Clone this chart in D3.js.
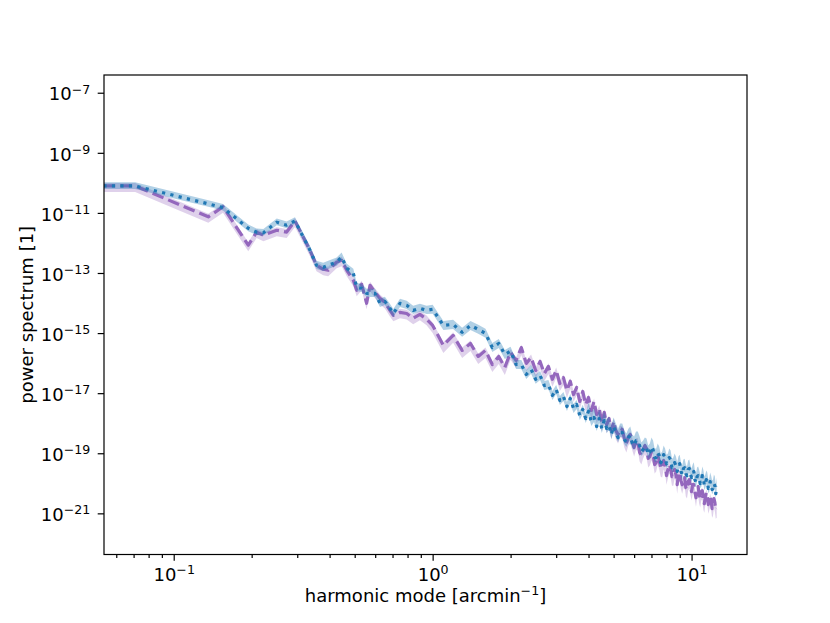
<!DOCTYPE html>
<html>
<head>
<meta charset="utf-8">
<script src="https://cdn.jsdelivr.net/npm/d3@7"></script>
<style>
body{margin:0;background:#fff;}
text{font-family:"DejaVu Sans",sans-serif;fill:#000;}
</style>
</head>
<body>
<svg id="chart" width="830" height="623"></svg>
<script>
// harmonic modes [arcmin^-1], shared by both spectra
const modes = [0.0535, 0.071, 0.136, 0.155, 0.194, 0.209, 0.222, 0.25, 0.273, 0.294,
    0.336, 0.356, 0.378, 0.395, 0.426, 0.445, 0.466, 0.494, 0.509, 0.532,
    0.556, 0.573, 0.599, 0.626, 0.654, 0.684, 0.705, 0.748, 0.794, 0.841, 0.893, 0.948,
    1.0, 1.1, 1.2, 1.3, 1.4, 1.5, 1.6, 1.7, 1.8, 1.9,
    2.0, 2.1, 2.2, 2.3, 2.4, 2.5, 2.6, 2.7, 2.8, 2.9,
    3.0, 3.1, 3.2, 3.3, 3.4, 3.5, 3.6, 3.7, 3.8, 3.9,
    4.0, 4.1, 4.2, 4.3, 4.4, 4.5, 4.6, 4.7, 4.8, 4.9,
    5.0, 5.1, 5.2, 5.3, 5.4, 5.5, 5.6, 5.7, 5.8, 5.9,
    6.0, 6.1, 6.2, 6.3, 6.4, 6.5, 6.6, 6.7, 6.8, 6.9,
    7.0, 7.1, 7.2, 7.3, 7.4, 7.5, 7.6, 7.7, 7.8, 7.9,
    8.0, 8.1, 8.2, 8.3, 8.4, 8.5, 8.6, 8.7, 8.8, 8.9,
    9.0, 9.1, 9.2, 9.3, 9.4, 9.5, 9.6, 9.7, 9.8, 9.9,
    10.0, 10.1, 10.2, 10.3, 10.4, 10.5, 10.6, 10.7, 10.8, 10.9,
    11.0, 11.1, 11.2, 11.3, 11.4, 11.5, 11.6, 11.7, 11.8, 11.9,
    12.0, 12.1, 12.2, 12.3, 12.4, 12.5];

// dotted blue spectrum
const bluePower = [7.9e-11, 7.9e-11, 2.0e-11, 1.5e-11, 3.1e-12, 2.3e-12, 2.2e-12, 4.9e-12, 3.9e-12, 5.4e-12,
    5.7e-13, 1.8e-13, 1.55e-13, 1.8e-13, 2.3e-13, 3.4e-13, 1.45e-13, 9.8e-14, 3.3e-14, 3.1e-14,
    2.1e-14, 2.1e-14, 2.1e-14, 9.8e-15, 1.14e-14, 6.7e-15, 4.5e-15, 9.8e-15, 8.4e-15, 5.7e-15, 6.7e-15, 5.7e-15,
    6.2e-15, 1.8e-15, 1.95e-15, 1.06e-15, 1.8e-15, 1.33e-15, 9.8e-16, 3.3e-16, 4.5e-16, 1.95e-16,
    2.5e-16, 9.0e-17, 9.0e-17, 4.2e-17, 6.2e-17, 2.9e-17, 3.9e-17, 1.8e-17, 1.95e-17, 8.4e-18,
    1.33e-17, 5.7e-18, 7.8e-18, 3.6e-18, 6.7e-18, 3.1e-18, 4.2e-18, 1.8e-18, 2.9e-18, 1.43e-18,
    2.5e-18, 1.14e-18, 1.55e-18, 7.8e-19, 1.43e-18, 6.7e-19, 1.23e-18, 6.7e-19, 8.4e-19, 4.2e-19,
    7.8e-19, 4.9e-19, 3.3e-19, 4.9e-19, 4.9e-19, 2.9e-19, 2.3e-19, 3.3e-19, 3.9e-19, 2.1e-19,
    1.8e-19, 2.65e-19, 2.65e-19, 1.8e-19, 1.14e-19, 1.33e-19, 1.67e-19, 1.55e-19, 9.0e-20, 1.06e-19,
    1.67e-19, 1.33e-19, 7.2e-20, 7.2e-20, 1.06e-19, 8.4e-20, 4.9e-20, 5.7e-20, 9.0e-20, 7.2e-20,
    4.5e-20, 4.9e-20, 7.2e-20, 6.2e-20, 3.3e-20, 3.6e-20, 4.9e-20, 3.9e-20, 2.5e-20, 3.9e-20,
    4.5e-20, 2.5e-20, 1.95e-20, 3.1e-20, 3.3e-20, 2.1e-20, 1.8e-20, 2.9e-20, 3.1e-20, 1.95e-20,
    1.55e-20, 2.1e-20, 2.5e-20, 1.33e-20, 1.06e-20, 1.67e-20, 1.8e-20, 1.43e-20, 9.8e-21, 1.06e-20,
    1.8e-20, 1.43e-20, 8.4e-21, 9.8e-21, 1.33e-20, 1.14e-20, 6.7e-21, 7.2e-21, 1.14e-20, 9.0e-21,
    6.2e-21, 6.7e-21, 9.8e-21, 8.4e-21, 4.5e-21, 7.8e-21];

// dashed purple spectrum
const purplePower = [7.9e-11, 7.9e-11, 7.4e-12, 1.6e-11, 8.4e-13, 2.3e-12, 1.8e-12, 2.65e-12, 2.3e-12, 5.4e-12,
    5.7e-13, 1.8e-13, 1.33e-13, 1.23e-13, 2.3e-13, 2.65e-13, 1.23e-13, 5.7e-14, 2.65e-14, 4.2e-14,
    9.8e-15, 3.9e-14, 2.3e-14, 1.45e-14, 1.05e-14, 5.7e-15, 3.9e-15, 4.9e-15, 4.5e-15, 3.1e-15, 4.2e-15, 2.9e-15,
    1.8e-15, 3.9e-16, 8.4e-16, 2.65e-16, 4.5e-16, 1.67e-16, 2.65e-16, 9.0e-17, 1.67e-16, 7.2e-17,
    2.3e-16, 1.23e-16, 3.3e-16, 9.8e-17, 1.55e-16, 5.7e-17, 1.14e-16, 4.5e-17, 7.8e-17, 2.9e-17,
    5.7e-17, 2.1e-17, 3.3e-17, 1.23e-17, 2.5e-17, 9.0e-18, 1.55e-17, 5.3e-18, 1.14e-17, 4.2e-18,
    7.2e-18, 2.65e-18, 5.3e-18, 1.95e-18, 3.1e-18, 1.06e-18, 2.3e-18, 9.0e-19, 1.43e-18, 5.7e-19,
    1.14e-18, 5.7e-19, 4.2e-19, 6.7e-19, 6.2e-19, 3.1e-19, 2.1e-19, 3.6e-19, 4.2e-19, 2.5e-19,
    1.55e-19, 2.5e-19, 2.5e-19, 1.06e-19, 8.4e-20, 1.33e-19, 1.8e-19, 1.43e-19, 6.7e-20, 7.8e-20,
    1.14e-19, 9.0e-20, 4.2e-20, 4.9e-20, 8.4e-20, 5.7e-20, 3.3e-20, 3.1e-20, 5.7e-20, 4.5e-20,
    1.8e-20, 2.9e-20, 4.2e-20, 3.1e-20, 1.67e-20, 1.67e-20, 2.9e-20, 1.95e-20, 9.0e-21, 2.1e-20,
    2.3e-20, 1.23e-20, 9.0e-21, 1.33e-20, 1.55e-20, 7.2e-21, 6.2e-21, 1.14e-20, 1.33e-20, 8.4e-21,
    5.3e-21, 9.0e-21, 9.0e-21, 5.3e-21, 3.3e-21, 6.2e-21, 7.8e-21, 4.2e-21, 3.1e-21, 5.3e-21,
    5.7e-21, 2.65e-21, 2.1e-21, 3.6e-21, 4.9e-21, 3.9e-21, 1.95e-21, 2.5e-21, 3.6e-21, 2.65e-21,
    1.43e-21, 1.67e-21, 3.1e-21, 2.3e-21, 1.33e-21, 1.43e-21];

// scatter band half-widths (dex) per range of modes
const bandEdges = [0.3, 1.0, 4.0, 20];
const blueUp = [0.12, 0.15, 0.15, 0.3];
const blueDn = [0.1, 0.12, 0.15, 0.15];
const purpleUp = [0.1, 0.12, 0.1, 0.1];
const purpleDn = [0.2, 0.2, 0.25, 0.3];

const xMajor = [0.1, 1, 10];
const xMinor = [0.06, 0.07, 0.08, 0.09, 0.2, 0.3, 0.4, 0.5, 0.6, 0.7, 0.8, 0.9,
    2, 3, 4, 5, 6, 7, 8, 9];
const yMajor = [1e-7, 1e-9, 1e-11, 1e-13, 1e-15, 1e-17, 1e-19, 1e-21];

const margin = {top: 75, left: 104};
const width = 643, height = 479.5;
const blue = "#1f77b4", purple = "#9467bd";

const svg = d3.select("#chart");

const x = d3.scaleLog().domain([0.0538, 16.37]).range([margin.left, margin.left + width]);
const y = d3.scaleLog().domain([4.27e-23, 3.89e-7]).range([margin.top + height, margin.top]);

svg.append("defs").append("clipPath").attr("id", "clip")
    .append("rect")
    .attr("x", margin.left).attr("y", margin.top)
    .attr("width", width).attr("height", height);

function bandIndex(k) {
    var i = 0;
    while (i < bandEdges.length - 1 && k >= bandEdges[i]) i++;
    return i;
}

function drawSeries(power, up, dn, color, dash, bandOpacity) {
    var pts = modes.map((k, i) => ({k: k, p: power[i], b: bandIndex(k)}));
    var area = d3.area()
        .x(d => x(d.k))
        .y0(d => y(d.p / Math.pow(10, dn[d.b])))
        .y1(d => y(d.p * Math.pow(10, up[d.b])));
    var line = d3.line()
        .x(d => x(d.k))
        .y(d => y(d.p));
    var g = svg.append("g").attr("clip-path", "url(#clip)");
    g.append("path")
        .datum(pts)
        .attr("d", area)
        .attr("fill", color)
        .attr("fill-opacity", bandOpacity)
        .attr("stroke", "none");
    g.append("path")
        .datum(pts)
        .attr("d", line)
        .attr("fill", "none")
        .attr("stroke", color)
        .attr("stroke-width", 3.2)
        .attr("stroke-dasharray", dash)
        .attr("stroke-linejoin", "round");
}

drawSeries(purplePower, purpleUp, purpleDn, purple, "11.8,5.1", 0.3);
drawSeries(bluePower, blueUp, blueDn, blue, "3.2,5.3", 0.35);

function superscript(textSel, exp) {
    textSel.text(null);
    textSel.append("tspan").text("10");
    textSel.append("tspan")
        .attr("dy", "-6.9")
        .attr("font-size", "12.6px")
        .text(exp);
}

function expLabel(v) {
    var e = Math.round(Math.log10(v));
    return (e < 0 ? "\u2212" : "") + Math.abs(e);
}

// x axis
var xAxis = svg.append("g")
    .attr("transform", `translate(0,${margin.top + height})`)
    .call(d3.axisBottom(x).tickValues(xMajor).tickSize(6.3).tickPadding(7.4));
xAxis.selectAll(".tick text")
    .attr("font-size", "18px")
    .each(function(d) { superscript(d3.select(this), expLabel(d)); });
svg.append("g")
    .attr("transform", `translate(0,${margin.top + height})`)
    .call(d3.axisBottom(x).tickValues(xMinor).tickSize(3.6).tickFormat(""));

// y axis
var yAxis = svg.append("g")
    .attr("transform", `translate(${margin.left},0)`)
    .call(d3.axisLeft(y).tickValues(yMajor).tickSize(6.3).tickPadding(7.5));
yAxis.selectAll(".tick text")
    .attr("font-size", "18px")
    .attr("dy", "0.4em")
    .each(function(d) { superscript(d3.select(this), expLabel(d)); });

svg.selectAll(".domain").remove();
svg.selectAll(".tick line").attr("stroke", "#000").attr("stroke-width", 1.2);

// frame
svg.append("rect")
    .attr("x", margin.left).attr("y", margin.top)
    .attr("width", width).attr("height", height)
    .attr("fill", "none").attr("stroke", "#000").attr("stroke-width", 1.2);

// axis labels
var xl = svg.append("text")
    .attr("x", margin.left + width / 2)
    .attr("y", 601.5)
    .attr("text-anchor", "middle")
    .attr("font-size", "18px");
xl.append("tspan").text("harmonic mode [arcmin");
xl.append("tspan").attr("dy", "-6.9").attr("font-size", "12.6px").text("\u22121");
xl.append("tspan").attr("dy", "6.9").text("]");

svg.append("text")
    .attr("transform", `translate(33.3,${margin.top + height / 2}) rotate(-90)`)
    .attr("text-anchor", "middle")
    .attr("font-size", "18px")
    .text("power spectrum [1]");
</script>
</body>
</html>
